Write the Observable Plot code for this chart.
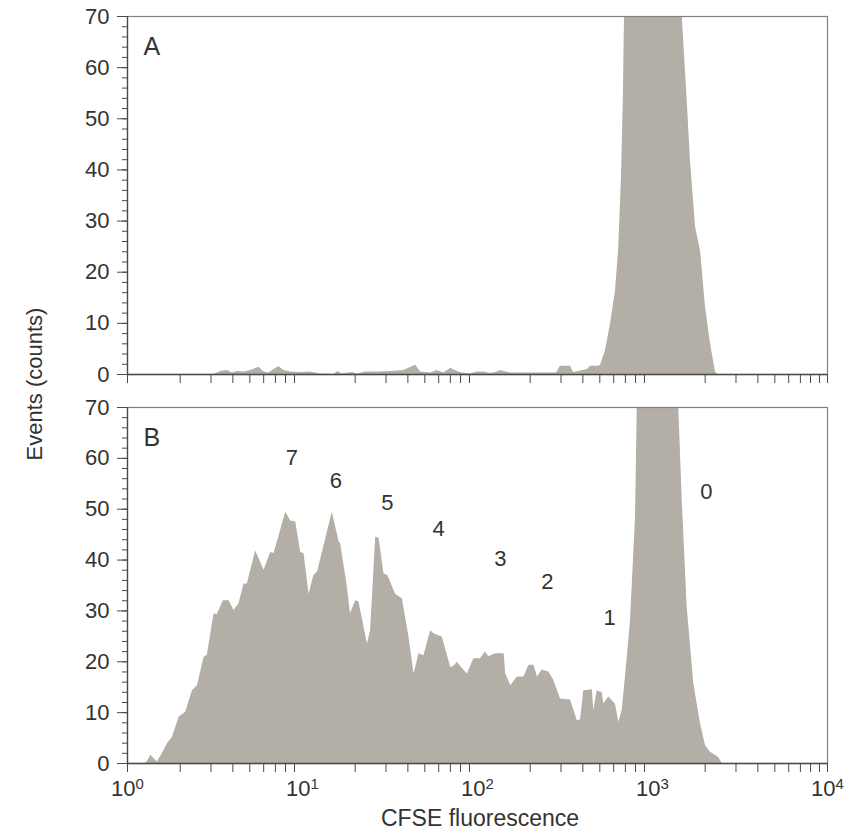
<!DOCTYPE html>
<html>
<head>
<meta charset="utf-8">
<script src="https://cdn.jsdelivr.net/npm/d3@7"></script>
<script src="https://cdn.jsdelivr.net/npm/@observablehq/plot@0.6"></script>
<style>
  body { margin: 0; background: #fff; }
  #wrap { position: relative; width: 863px; height: 833px; font-family: "Liberation Sans", Arial, sans-serif; color: #333; }
  #panelA { position: absolute; left: 0; top: 0; }
  #panelB { position: absolute; left: 0; top: 390px; }
  #ylab { position: absolute; left: 35px; top: 384px; transform: translate(-50%, -50%) rotate(-90deg); font-size: 22px; white-space: nowrap; }
  #xlab { position: absolute; left: 480px; top: 818px; transform: translate(-50%, -50%); font-size: 23px; white-space: nowrap; }
</style>
</head>
<body>
<div id="wrap">
  <div id="panelA"></div>
  <div id="panelB"></div>
  <div id="ylab">Events (counts)</div>
  <div id="xlab">CFSE fluorescence</div>
</div>
<script>
// ---- Data: [CFSE fluorescence, events] ----
const histA = [
  [3.12,0],[3.41,0.6],[3.72,0.8],[3.98,0.3],[4.25,0.6],[4.63,0.5],[5.06,0.8],[5.64,1.4],
  [6.03,0.5],[6.41,0.3],[6.88,1.0],[7.34,1.5],[7.84,0.8],[8.57,0.5],[9.77,0.4],[11.1,0.5],
  [12.7,0.1],[15.1,0],[15.9,0.6],[16.9,0.1],[19.3,0.4],[20.6,0.1],[23.0,0.5],[26.8,0.5],
  [31.9,0.6],[38.0,0.8],[42.4,1.5],[44.3,1.8],[47.3,0.5],[54.0,0.3],[58.9,0.8],[64.3,0.3],
  [70.3,1.2],[76.7,0.6],[81.9,0.3],[91.4,0.1],[99.8,0.5],[109,0.5],[119,0.2],[130,0.5],
  [135,0.8],[155,0.3],[193,0.3],[239,0.3],[283,0.3],[298,1.6],[340,1.6],[354,0.4],
  [424,1.0],[443,1.6],[492,1.6],[505,1.8],[539,4.7],[576,9.9],[615,16.4],[642,24.9],
  [666,39.3],[681,53.6],[692,70],[740,150],[975,190],[1400,150],[1479,70],[1578,53.6],
  [1648,41.8],[1762,28.8],[1881,24.2],[2009,13.2],[2145,6.0],[2290,0.5],[2350,0]
];
const histB = [
  [1,0],[1.27,0],[1.30,0.4],[1.36,1.6],[1.48,0.3],[1.58,1.9],[1.69,3.9],[1.81,5.2],
  [1.97,9.1],[2.15,10.1],[2.35,14.3],[2.51,15.3],[2.74,20.9],[2.86,21.3],[3.12,29.4],[3.26,29.3],
  [3.53,32.0],[3.80,32.0],[4.06,30.1],[4.34,31.4],[4.63,35.3],[4.84,35.3],[5.40,41.8],[6.03,38.0],
  [6.58,41.5],[6.88,41.3],[8.02,49.4],[8.57,47.7],[9.15,47.5],[9.77,41.5],[10.2,41.3],[10.9,33.3],
  [11.6,36.9],[12.2,37.7],[14.8,49.4],[16.2,43.5],[16.5,43.3],[18.0,35.0],[18.8,29.4],[20.1,32.0],
  [21.0,31.8],[23.5,23.5],[24.5,26.1],[26.2,44.5],[27.4,44.3],[29.2,37.3],[30.8,36.9],[34.0,33.3],
  [37.2,32.4],[40.6,24.8],[43.4,17.6],[46.3,21.6],[49.4,21.2],[54.0,26.1],[56.4,25.5],[63.0,24.8],
  [70.3,18.9],[73.3,19.1],[76.7,19.9],[81.9,18.7],[87.5,17.6],[95.4,20.6],[104,20.6],[111,21.9],
  [116,21.0],[127,21.6],[135,21.6],[142,21.6],[145,17.6],[155,15.3],[169,17.0],[184,17.0],
  [197,19.3],[210,19.3],[220,17.0],[234,18.4],[256,18.0],[273,16.3],[298,12.7],[340,12.5],
  [372,8.4],[388,8.6],[405,14.3],[453,14.5],[462,10.4],[483,14.3],[516,13.9],[527,11.7],
  [563,13.1],[615,11.6],[642,8.1],[671,10.4],[701,17.0],[749,28.1],[800,48.4],[818,70],
  [855,120],[1110,160],[1355,120],[1413,70],[1479,51.7],[1578,30.7],[1722,15.7],[1881,7.8],
  [2009,3.5],[2145,2.2],[2392,1.2],[2500,0],[10000,0]
];

// generation labels in panel B
const peakLabels = ["7", "6", "5", "4", "3", "2", "1", "0"];
const peakX = [8.7, 15.5, 30.5, 60, 135, 251, 568, 2030];
const peakY = [60.0, 55.6, 51.2, 46.2, 40.3, 35.6, 28.7, 53.3];

// axis ticks
const yMajorTicks = [0, 10, 20, 30, 40, 50, 60, 70];
const yMinorTicks = [0, 2, 4, 6, 8, 10, 12, 14, 16, 18, 20, 22, 24, 26, 28, 30, 32, 34,
  36, 38, 40, 42, 44, 46, 48, 50, 52, 54, 56, 58, 60, 62, 64, 66, 68, 70];
const xDecadeTicks = [1, 10, 100, 1000, 10000];
const xDecadeExponents = ["0", "1", "2", "3", "4"];
const xMinorTicks = [1, 2, 3, 4, 5, 6, 7, 8, 9, 20, 30, 40, 50, 60, 70, 80, 90,
  200, 300, 400, 500, 600, 700, 800, 900, 2000, 3000, 4000, 5000, 6000, 7000, 8000, 9000, 10000];

const FILL = "#b3aea6";
const AXIS = "#4a4a4a";
const TEXT = "#333333";
const FONT = "'Liberation Sans', Arial, sans-serif";

function panel(hist, letter, opts) {
  const data = hist.map(([f, c]) => ({f, c}));
  const marks = [
    Plot.areaY(data, {x: "f", y: "c", fill: FILL, curve: "linear", clip: true}),
    Plot.frame({stroke: "#808080", strokeWidth: 1.2}),
    Plot.axisY({ticks: yMinorTicks, tickSize: 5, tickFormat: () => "", stroke: AXIS, label: null}),
    Plot.axisY({ticks: yMajorTicks, tickSize: 10, tickPadding: 8, tickFormat: d => String(d), stroke: AXIS, fill: TEXT, label: null}),
    Plot.axisX({ticks: xMinorTicks, tickSize: 9, tickFormat: () => "", stroke: AXIS, label: null}),
    Plot.ruleY([0], {stroke: AXIS, strokeWidth: 1.3}),
    Plot.ruleX([1], {stroke: AXIS, strokeWidth: 1.3}),
    Plot.text([letter], {frameAnchor: "top-left", dx: 16, dy: 21, fontSize: 25, fill: TEXT, text: d => d})
  ];
  if (opts.decadeLabels) {
    marks.push(Plot.axisX({ticks: xDecadeTicks, tickSize: 0, tickPadding: 17, label: null,
      tickFormat: d => "10^" + xDecadeExponents[xDecadeTicks.indexOf(d)], fill: TEXT}));
  }
  if (opts.extra) marks.push(...opts.extra);
  return Plot.plot({
    width: 863,
    height: opts.height,
    marginLeft: 127,
    marginRight: 36,
    marginTop: opts.marginTop,
    marginBottom: opts.marginBottom,
    style: {fontFamily: FONT, fontSize: "22px", color: TEXT, background: "transparent", overflow: "visible"},
    x: {type: "log", domain: [1, 10000], axis: null, label: null},
    y: {domain: [0, 70], axis: null, label: null},
    marks
  });
}

const labelData = peakLabels.map((t, i) => ({t, x: peakX[i], y: peakY[i]}));

const chartA = panel(histA, "A", {height: 390, marginTop: 16, marginBottom: 16});
const chartB = panel(histB, "B", {
  height: 443, marginTop: 17, marginBottom: 70, decadeLabels: true,
  extra: [Plot.text(labelData, {x: "x", y: "y", text: "t", fontSize: 22, fill: TEXT})]
});

// superscript exponents on decade labels
chartB.querySelectorAll('g[aria-label="x-axis tick label"] text').forEach(t => {
  const m = (t.textContent || "").match(/^10\^(\d)$/);
  if (!m) return;
  t.textContent = "10";
  const ts = document.createElementNS("http://www.w3.org/2000/svg", "tspan");
  ts.setAttribute("dy", "-0.45em");
  ts.setAttribute("font-size", "0.68em");
  ts.textContent = m[1];
  t.appendChild(ts);
});

document.getElementById("panelA").appendChild(chartA);
document.getElementById("panelB").appendChild(chartB);
</script>
</body>
</html>
